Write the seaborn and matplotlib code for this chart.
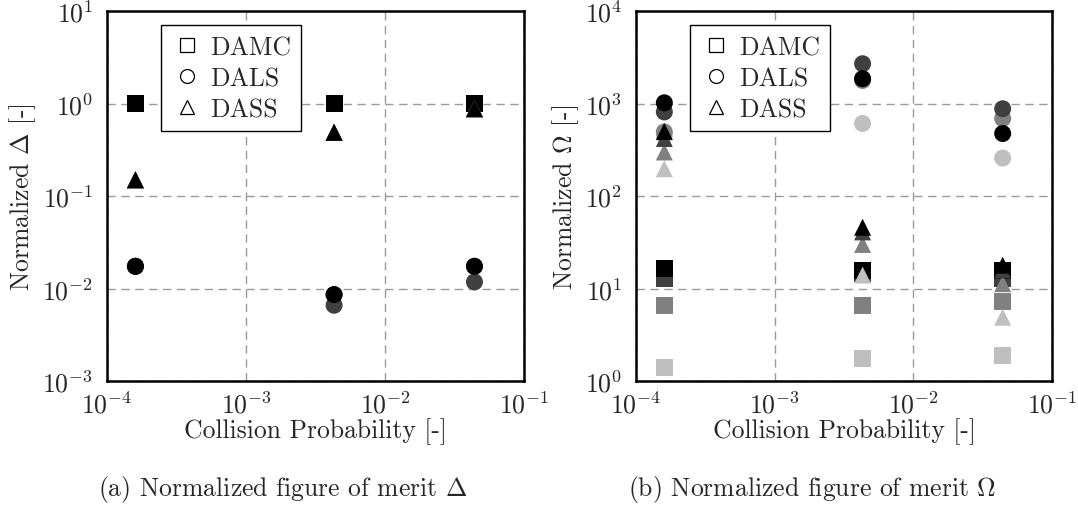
import pandas as pd
import numpy as np
import matplotlib
matplotlib.use("Agg")
import matplotlib.pyplot as plt
import seaborn as sns
from matplotlib.lines import Line2D

# Data
prob = [1.6e-4, 4.3e-3, 4.4e-2]
levels = ["light", "gray", "dark", "black"]   # draw order (black on top)
level_colors = {"light": "#bfbfbf", "gray": "#808080", "dark": "#404040", "black": "#000000"}
methods = ["DAMC", "DALS", "DASS"]
method_markers = {"DAMC": "s", "DALS": "o", "DASS": "^"}

# Normalized Delta
delta_damc = {"light": [1.0, 1.0, 1.0], "gray": [1.0, 1.0, 1.0],
              "dark": [1.0, 1.0, 1.0], "black": [1.0, 1.0, 1.0]}
delta_dals = {"light": [0.0174, 0.0086, 0.0174], "gray": [0.0174, 0.0086, 0.0174],
              "dark": [0.0174, 0.0066, 0.0118], "black": [0.0174, 0.0086, 0.0174]}
delta_dass = {"light": [0.15, 0.49, 0.88], "gray": [0.15, 0.49, 0.88],
              "dark": [0.15, 0.49, 0.88], "black": [0.15, 0.49, 0.88]}

# Normalized Omega
omega_damc = {"light": [1.39, 1.75, 1.87], "gray": [6.5, 6.5, 7.2],
              "dark": [12.8, 14.5, 12.8], "black": [16.4, 15.8, 15.5]}
omega_dals = {"light": [450, 610, 258], "gray": [494, 1780, 690],
              "dark": [813, 2700, 880], "black": [1020, 1860, 475]}
omega_dass = {"light": [198, 14, 4.9], "gray": [300, 30, 11.3],
              "dark": [420, 41, 15.9], "black": [500, 46, 17.9]}


def build_frame(damc, dals, dass):
    rows = []
    for method, d in zip(methods, [damc, dals, dass]):
        for lev in levels:
            for p, v in zip(prob, d[lev]):
                rows.append({"prob": p, "value": v, "method": method, "level": lev})
    return pd.DataFrame(rows)


df_delta = build_frame(delta_damc, delta_dals, delta_dass)
df_omega = build_frame(omega_damc, omega_dals, omega_dass)

sns.set_style("white")
plt.rcParams["font.family"] = "serif"
plt.rcParams["font.serif"] = ["cmr10", "DejaVu Serif"]
plt.rcParams["mathtext.fontset"] = "cm"
plt.rcParams["axes.unicode_minus"] = False
plt.rcParams["axes.formatter.use_mathtext"] = True

fig = plt.figure(figsize=(10.78, 5.06), dpi=100)
ax1 = fig.add_axes([0.0993, 0.245, 0.3868, 0.731])
ax2 = fig.add_axes([0.590, 0.245, 0.386, 0.731])

fs = 18.5


def draw(ax, df, ylim, ylabel):
    sns.scatterplot(data=df, x="prob", y="value", hue="level", style="method",
                    hue_order=levels, palette=level_colors,
                    style_order=methods, markers=method_markers,
                    s=150, linewidth=0, alpha=1, legend=False, ax=ax)
    ax.set_xscale("log")
    ax.set_yscale("log")
    ax.set_xlim(1e-4, 1e-1)
    ax.set_ylim(*ylim)
    ax.minorticks_off()
    ax.grid(True, color="#9a9a9a", linestyle=(0, (6, 4)), linewidth=1.0)
    ax.tick_params(axis="both", direction="in", length=4, color="#9a9a9a",
                   labelsize=fs)
    ax.tick_params(axis="y", pad=10)
    ax.tick_params(axis="x", pad=7)
    for sp in ax.spines.values():
        sp.set_color("black")
        sp.set_linewidth(1.8)
    ax.set_xlabel("Collision Probability [-]", fontsize=fs, labelpad=0)
    ax.set_ylabel(ylabel, fontsize=fs, labelpad=3)

    handles = [Line2D([], [], linestyle="none", marker=method_markers[m],
                      markersize=10, markerfacecolor="white",
                      markeredgecolor="black", markeredgewidth=0.9, label=m)
               for m in methods]
    leg = ax.legend(handles=handles, loc="upper left",
                    bbox_to_anchor=(0.13, 0.962), borderaxespad=0,
                    fontsize=fs, fancybox=False, framealpha=1,
                    edgecolor="black", handletextpad=0.3,
                    labelspacing=0.28, borderpad=0.4, handlelength=1.2)
    leg.get_frame().set_linewidth(1.0)


draw(ax1, df_delta, (1e-3, 1e1), r"Normalized $\Delta$ [-]")
draw(ax2, df_omega, (1e0, 1e4), r"Normalized $\Omega$ [-]")

fig.text(0.2625, 0.032, r"(a) Normalized figure of merit $\Delta$",
         ha="center", va="center", fontsize=fs)
fig.text(0.753, 0.032, r"(b) Normalized figure of merit $\Omega$",
         ha="center", va="center", fontsize=fs)

fig.savefig("out.png", dpi=100)
